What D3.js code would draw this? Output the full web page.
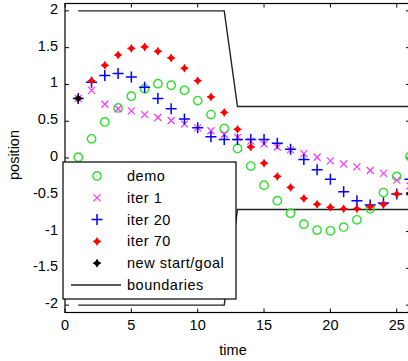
<!DOCTYPE html>
<html>
<head>
<meta charset="utf-8">
<script src="https://cdn.jsdelivr.net/npm/d3@7"></script>
<style>
  body { margin: 0; background: #fff; }
  svg { display: block; font-family: "Liberation Sans", Arial, sans-serif; }
</style>
</head>
<body>
<svg width="408" height="361"></svg>
<script>
// time steps 1..26
const steps = d3.range(1, 27);

const demo = [0.01, 0.26, 0.49, 0.68, 0.84, 0.94, 1.01, 0.99, 0.92, 0.78, 0.59, 0.40, 0.13,
  -0.11, -0.37, -0.58, -0.75, -0.90, -0.98, -0.99, -0.94, -0.84, -0.69, -0.47, -0.25, 0.02];
const iter1 = [0.81, 0.92, 0.73, 0.67, 0.64, 0.59, 0.55, 0.51, 0.46, 0.41, 0.37, 0.32, 0.28,
  0.23, 0.19, 0.15, 0.11, 0.06, 0.01, -0.04, -0.08, -0.12, -0.17, -0.21, -0.30, -0.38];
const iter20 = [0.81, 1.03, 1.12, 1.15, 1.10, 0.96, 0.81, 0.67, 0.53, 0.41, 0.29, 0.25, 0.25,
  0.25, 0.25, 0.20, 0.12, -0.02, -0.16, -0.29, -0.46, -0.58, -0.64, -0.61, -0.49, -0.29];
const iter70 = [0.81, 1.05, 1.26, 1.40, 1.49, 1.51, 1.45, 1.36, 1.22, 1.05, 0.83, 0.62, 0.39,
  0.15, -0.07, -0.25, -0.40, -0.55, -0.63, -0.67, -0.69, -0.69, -0.66, -0.63, -0.49, -0.48];
const startGoal = [[1, 0.81], [26, -0.48]];

const upperBound = [[1, 2], [12, 2], [13, 0.7], [26, 0.7]];
const lowerBound = [[1, -2], [12, -2], [13, -0.7], [26, -0.7]];

const xTicks = [0, 5, 10, 15, 20, 25];
const yTicks = [-2, -1.5, -1, -0.5, 0, 0.5, 1, 1.5, 2];
const legendLabels = ["demo", "iter 1", "iter 20", "iter 70", "new start/goal", "boundaries"];

const svg = d3.select("svg");
const plot = { left: 65, right: 410, top: 3.5, bottom: 312.5 };

const xScale = d3.scaleLinear().domain([0, 26]).range([plot.left, plot.right]);
const yScale = d3.scaleLinear().domain([-2.1, 2.1]).range([plot.bottom, plot.top]);

// marker drawing helpers
const markers = {
  circle: (g) => g.append("circle").attr("r", 4.2)
      .attr("fill", "none").attr("stroke", "#2fe02f").attr("stroke-width", 1.4),
  cross: (g) => g.append("path").attr("d", "M-3.5,-3.5L3.5,3.5M-3.5,3.5L3.5,-3.5")
      .attr("stroke", "#ff33ff").attr("stroke-width", 1.2).attr("fill", "none"),
  plus: (g) => g.append("path").attr("d", "M-5.5,0H5.5M0,-5.5V5.5")
      .attr("stroke", "#0000ff").attr("stroke-width", 1.5).attr("fill", "none"),
  red: (g) => star(g, "#ff0000"),
  black: (g) => star(g, "#000000")
};

function star(g, color) {
  g.append("path").attr("d", "M0,-3.6L3.6,0L0,3.6L-3.6,0Z").attr("fill", color);
  g.append("path").attr("d", "M-4,0H4M0,-4V4").attr("stroke", color).attr("stroke-width", 1.2);
}

// axes box
svg.append("rect")
    .attr("x", plot.left).attr("y", plot.top)
    .attr("width", plot.right - plot.left).attr("height", plot.bottom - plot.top)
    .attr("fill", "#fff").attr("stroke", "#000").attr("stroke-width", 1.2);

// ticks (inward, on all four sides)
const tickLen = 4;
const ticks = svg.append("g").attr("stroke", "#000").attr("stroke-width", 1);
xTicks.forEach(t => {
  const x = xScale(t);
  ticks.append("line").attr("x1", x).attr("x2", x).attr("y1", plot.bottom).attr("y2", plot.bottom - tickLen);
  ticks.append("line").attr("x1", x).attr("x2", x).attr("y1", plot.top).attr("y2", plot.top + tickLen);
});
yTicks.forEach(t => {
  const y = yScale(t);
  ticks.append("line").attr("x1", plot.left).attr("x2", plot.left + tickLen).attr("y1", y).attr("y2", y);
  ticks.append("line").attr("x1", plot.right).attr("x2", plot.right - tickLen).attr("y1", y).attr("y2", y);
});

svg.append("g").selectAll("text").data(xTicks).enter().append("text")
    .attr("x", d => xScale(d)).attr("y", 330)
    .attr("text-anchor", "middle").attr("font-size", 14.5)
    .text(d => d);

svg.append("g").selectAll("text").data(yTicks).enter().append("text")
    .attr("x", 58).attr("y", d => yScale(d) + 3)
    .attr("text-anchor", "end").attr("font-size", 14.5)
    .text(d => d);

svg.append("text").attr("x", 233).attr("y", 355)
    .attr("text-anchor", "middle").attr("font-size", 14.5).text("time");
svg.append("text")
    .attr("transform", "translate(19,155) rotate(-90)")
    .attr("text-anchor", "middle").attr("font-size", 14.5).text("position");

// boundaries
const line = d3.line().x(d => xScale(d[0])).y(d => yScale(d[1]));
[upperBound, lowerBound].forEach(b => {
  svg.append("path").attr("d", line(b))
      .attr("fill", "none").attr("stroke", "#222").attr("stroke-width", 1.4);
});

// scatter series
const series = [
  { values: demo, marker: "circle" },
  { values: iter1, marker: "cross" },
  { values: iter20, marker: "plus" },
  { values: iter70, marker: "red" }
];
series.forEach(s => {
  s.values.forEach((v, i) => {
    const g = svg.append("g")
        .attr("transform", `translate(${xScale(steps[i])},${yScale(v)})`);
    markers[s.marker](g);
  });
});
startGoal.forEach(p => {
  const g = svg.append("g").attr("transform", `translate(${xScale(p[0])},${yScale(p[1])})`);
  markers.black(g);
});

// legend
const legend = svg.append("g");
legend.append("rect")
    .attr("x", 63).attr("y", 162).attr("width", 173).attr("height", 137)
    .attr("fill", "#fff").attr("stroke", "#000").attr("stroke-width", 1.2);
const legendMarkers = ["circle", "cross", "plus", "red", "black", null];
legendLabels.forEach((label, i) => {
  const y = 176 + i * 21.8;
  if (legendMarkers[i]) {
    markers[legendMarkers[i]](legend.append("g").attr("transform", `translate(97,${y})`));
  } else {
    legend.append("line").attr("x1", 71).attr("x2", 121).attr("y1", y).attr("y2", y)
        .attr("stroke", "#222").attr("stroke-width", 1.4);
  }
  legend.append("text").attr("x", 127).attr("y", y + 5)
      .attr("font-size", 14.5).attr("letter-spacing", 0.5).text(label);
});
</script>
</body>
</html>
